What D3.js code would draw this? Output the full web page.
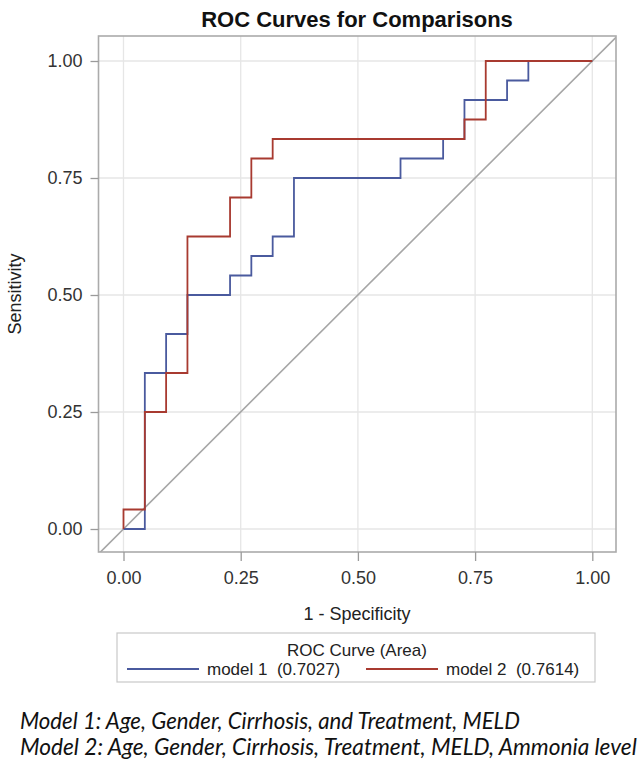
<!DOCTYPE html>
<html><head><meta charset="utf-8">
<script src="https://cdn.jsdelivr.net/npm/d3@7"></script>
<style>
html,body{margin:0;padding:0;background:#fff;}
svg text{font-family:"Liberation Sans",Arial,sans-serif;}
</style></head>
<body>
<svg id="chart" width="643" height="770"></svg>
<script>
// ---- data ----
const model1Fpr = [0, 0.0455, 0.0909, 0.1364, 0.2273, 0.2727, 0.3182, 0.3636, 0.5909, 0.6818, 0.7273, 0.8182, 0.8636, 1];
const model1Tpr = [0, 0.3333, 0.4167, 0.5000, 0.5417, 0.5833, 0.6250, 0.7500, 0.7917, 0.8333, 0.9167, 0.9583, 1.0000, 1];
const model2Fpr = [0, 0, 0.0455, 0.0909, 0.1364, 0.2273, 0.2727, 0.3182, 0.7273, 0.7727, 1];
const model2Tpr = [0, 0.0417, 0.2500, 0.3333, 0.6250, 0.7083, 0.7917, 0.8333, 0.8750, 1.0000, 1];
const seriesNames = ["model 1", "model 2"];
const seriesAreas = ["0.7027", "0.7614"];
const xTicks = [0, 0.25, 0.5, 0.75, 1];
const yTicks = [0, 0.25, 0.5, 0.75, 1];
const titleText = "ROC Curves for Comparisons";
const xLabel = "1 - Specificity";
const yLabel = "Sensitivity";
const legendTitle = "ROC Curve (Area)";
const notes = ["Model 1: Age, Gender, Cirrhosis, and Treatment, MELD",
               "Model 2: Age, Gender, Cirrhosis, Treatment, MELD, Ammonia level"];

// ---- layout ----
const colors = ["#4a5a9e", "#a83a30"];
const svg = d3.select("#chart");
const frame = {l: 98.5, r: 616, t: 36, b: 552};
const x = d3.scaleLinear().domain([0, 1]).range([123.5, 592.3]);
const y = d3.scaleLinear().domain([0, 1]).range([529, 61]);

// title
svg.append("text").attr("x", 357).attr("y", 27).attr("text-anchor", "middle")
  .style("font-size", "22px").style("font-weight", "bold").attr("fill", "#111").text(titleText);

// gridlines
const g = svg.append("g");
g.selectAll(".gx").data(xTicks).join("line")
  .attr("x1", d => x(d)).attr("x2", d => x(d)).attr("y1", frame.t).attr("y2", frame.b)
  .attr("stroke", "#e6e6e6").attr("stroke-width", 1.3);
g.selectAll(".gy").data(yTicks).join("line")
  .attr("y1", d => y(d)).attr("y2", d => y(d)).attr("x1", frame.l).attr("x2", frame.r)
  .attr("stroke", "#e6e6e6").attr("stroke-width", 1.3);

// clip
svg.append("clipPath").attr("id", "clip").append("rect")
  .attr("x", frame.l).attr("y", frame.t).attr("width", frame.r - frame.l).attr("height", frame.b - frame.t);

// diagonal reference
const dmin = x.invert(frame.l), dmax = x.invert(frame.r);
svg.append("line").attr("clip-path", "url(#clip)")
  .attr("x1", x(dmin)).attr("y1", y(dmin)).attr("x2", x(dmax)).attr("y2", y(dmax))
  .attr("stroke", "#a6a6a6").attr("stroke-width", 1.6);

// curves
const line = d3.line().x(d => x(d[0])).y(d => y(d[1])).curve(d3.curveStepAfter);
const series = [d3.zip(model1Fpr, model1Tpr), d3.zip(model2Fpr, model2Tpr)];
series.forEach((s, i) => {
  svg.append("path").datum(s).attr("d", line).attr("fill", "none")
    .attr("stroke", colors[i]).attr("stroke-width", 1.8);
});

// frame
svg.append("rect").attr("x", frame.l).attr("y", frame.t)
  .attr("width", frame.r - frame.l).attr("height", frame.b - frame.t)
  .attr("fill", "none").attr("stroke", "#ababab").attr("stroke-width", 1.6);

// axes
const yAxis = svg.append("g").attr("transform", `translate(${frame.l},0)`)
  .call(d3.axisLeft(y).tickValues(yTicks).tickFormat(d3.format(".2f")).tickSize(8).tickPadding(8));
const xAxis = svg.append("g").attr("transform", `translate(0,${frame.b})`)
  .call(d3.axisBottom(x).tickValues(xTicks).tickFormat(d3.format(".2f")).tickSize(9).tickPadding(10));
[yAxis, xAxis].forEach(a => {
  a.select(".domain").remove();
  a.selectAll(".tick line").attr("stroke", "#9a9a9a").attr("stroke-width", 1.3);
  a.selectAll(".tick text").attr("fill", "#333").style("font-size", "18px")
    .style("font-family", "'Liberation Sans', Arial, sans-serif");
});

// axis labels
svg.append("text").attr("x", 357).attr("y", 620).attr("text-anchor", "middle")
  .style("font-size", "18px").attr("fill", "#222").text(xLabel);
svg.append("text").attr("transform", "translate(21,294) rotate(-90)").attr("text-anchor", "middle")
  .style("font-size", "18px").attr("fill", "#222").text(yLabel);

// legend
const lg = svg.append("g");
lg.append("rect").attr("x", 117).attr("y", 633).attr("width", 478).attr("height", 49)
  .attr("fill", "#fff").attr("stroke", "#c8c8c8").attr("stroke-width", 1.2);
lg.append("text").attr("x", 357).attr("y", 656).attr("text-anchor", "middle")
  .style("font-size", "17px").attr("fill", "#222").text(legendTitle);
const entryX = [127, 366];
seriesNames.forEach((n, i) => {
  lg.append("line").attr("x1", entryX[i]).attr("x2", entryX[i] + 72).attr("y1", 669).attr("y2", 669)
    .attr("stroke", colors[i]).attr("stroke-width", 1.8);
  lg.append("text").attr("x", entryX[i] + 80).attr("y", 675)
    .style("font-size", "17px").style("white-space", "pre").attr("fill", "#222")
    .text(`${n}  (${seriesAreas[i]})`);
});

// footnotes
const noteWidths = [500, 617];
notes.forEach((t, i) => {
  const tx = svg.append("text").attr("x", 20).attr("y", 729 + i * 26)
    .style("font-family", "Lato, 'Open Sans', sans-serif").style("font-style", "italic")
    .style("font-size", "18px").attr("fill", "#111").text(t);
  const w = tx.node().getComputedTextLength();
  tx.style("font-size", (18 * noteWidths[i] / w).toFixed(2) + "px");
});
</script>
</body></html>
